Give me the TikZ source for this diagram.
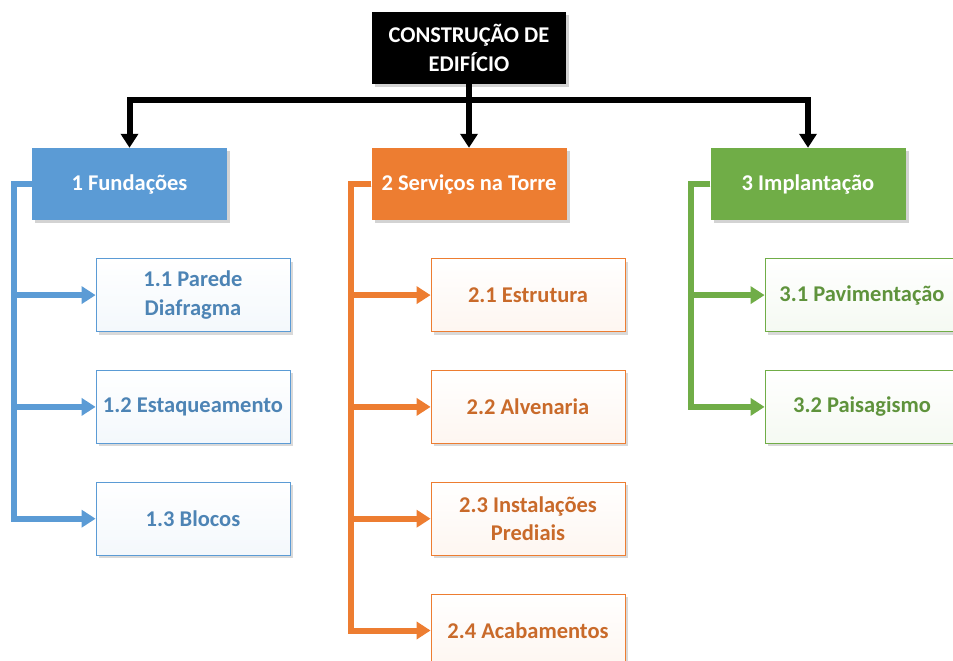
\documentclass[tikz,border=0pt]{standalone}
\usepackage{fontspec}
\setmainfont{Carlito}
\usetikzlibrary{positioning,arrows.meta,shadows}
\definecolor{wbsblue}{HTML}{5B9BD5}
\definecolor{wbsorange}{HTML}{ED7D31}
\definecolor{wbsgreen}{HTML}{70AD47}

\begin{document}
\begin{tikzpicture}[x=1pt, y=-1pt,
    wbs font/.style={font=\bfseries\fontsize{22.5pt}{28.5pt}\selectfont},
    wbs top/.style={rectangle, fill=black, text=white, wbs font, align=center, minimum width=194pt, minimum height=72pt, drop shadow={shadow xshift=3pt, shadow yshift=-3pt, opacity=0.35}},
    wbs phase/.style={rectangle, fill=#1, text=white, wbs font, minimum width=195pt, minimum height=72pt, drop shadow={shadow xshift=3pt, shadow yshift=-3pt, opacity=0.35}},
    wbs item/.style={rectangle, draw=#1, line width=0.8pt, top color=white, bottom color=#1!7, text=#1!85!black, wbs font, align=center, minimum width=194pt, minimum height=73pt, drop shadow={shadow xshift=3pt, shadow yshift=-3pt, opacity=0.3}},
    wbs link/.style={draw=#1, line width=6pt, -{Triangle[length=14pt, width=17pt]}}]
    \clip (0,0) rectangle (953,661);
    \useasboundingbox (0,0) rectangle (953,661);

    % topo
    \node[wbs top] (root) at (469,48) {CONSTRUÇÃO DE\\EDIFÍCIO};

    % fases
    \node[wbs phase=wbsblue] (fund) at (129.5,184) {1 Fundações};
    \node[wbs phase=wbsorange] (serv) at (469,184) {2 Serviços na Torre};
    \node[wbs phase=wbsgreen] (impl) at (808,184) {3 Implantação};

    % pacotes
    \node[wbs item=wbsblue, below=38pt of fund, xshift=63.5pt] (f1) {1.1 Parede\\Diafragma};
    \node[wbs item=wbsblue, below=38pt of f1] (f2) {1.2 Estaqueamento};
    \node[wbs item=wbsblue, below=38pt of f2] (f3) {1.3 Blocos};

    \node[wbs item=wbsorange, below=38pt of serv, xshift=59pt] (s1) {2.1 Estrutura};
    \node[wbs item=wbsorange, below=38pt of s1] (s2) {2.2 Alvenaria};
    \node[wbs item=wbsorange, below=38pt of s2] (s3) {2.3 Instalações\\Prediais};
    \node[wbs item=wbsorange, below=38pt of s3] (s4) {2.4 Acabamentos};

    \node[wbs item=wbsgreen, below=38pt of impl, xshift=54pt] (i1) {3.1 Pavimentação};
    \node[wbs item=wbsgreen, below=38pt of i1] (i2) {3.2 Paisagismo};

    % ligações
    \draw[wbs link=black] (root.south) -- ++(0,16) -| (fund.north);
    \draw[wbs link=black] (root.south) -- (serv.north);
    \draw[wbs link=black] (root.south) -- ++(0,16) -| (impl.north);

    \foreach \k in {f1,f2,f3}
        \draw[wbs link=wbsblue] (fund.west) -- ++(-18,0) |- (\k.west);
    \foreach \k in {s1,s2,s3,s4}
        \draw[wbs link=wbsorange] (serv.west) -- ++(-20,0) |- (\k.west);
    \foreach \k in {i1,i2}
        \draw[wbs link=wbsgreen] (impl.west) -- ++(-19,0) |- (\k.west);
\end{tikzpicture}
\end{document}
